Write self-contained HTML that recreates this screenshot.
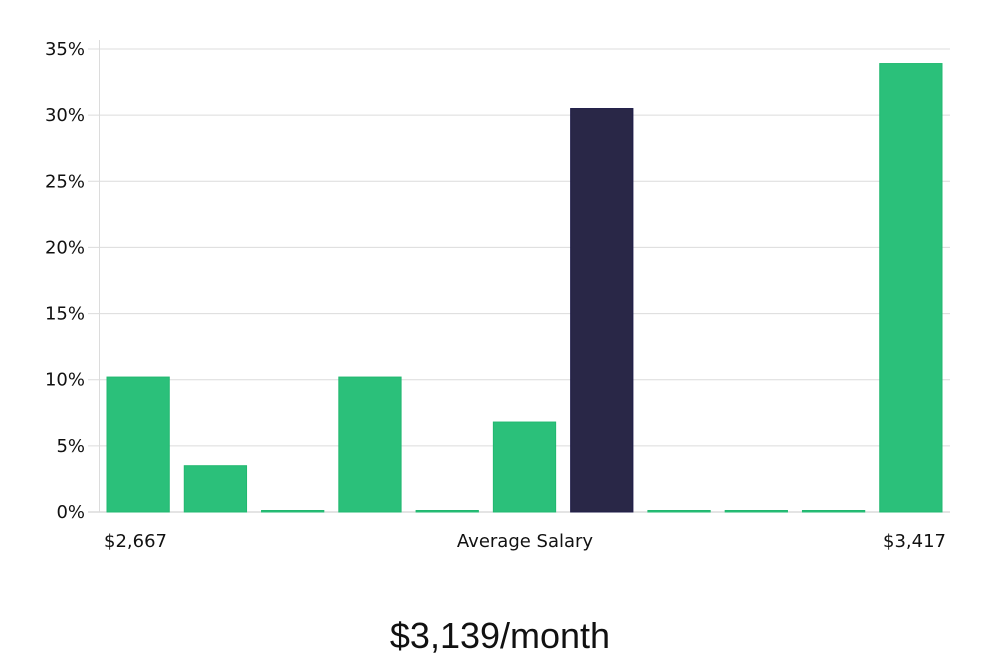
<!DOCTYPE html>
<html><head><meta charset="utf-8"><style>
body{margin:0;background:#fff;width:1000px;height:660px;overflow:hidden;font-family:"DejaVu Sans","Liberation Sans",sans-serif;}
svg{display:block}
</style></head><body>
<svg id="chart" width="1000" height="660"></svg>
<script>
const categories=["b1","b2","b3","b4","b5","b6","b7","b8","b9","b10","b11"];
const values=[10.2,3.5,0,10.2,0,6.8,30.5,0,0,0,33.9];
const highlight=[false,false,false,false,false,false,true,false,false,false,false];
const yTicks=[0,5,10,15,20,25,30,35];
const yTickLabels=["0%","5%","10%","15%","20%","25%","30%","35%"];
const xLabels=["$2,667","Average Salary","$3,417"];
const title="$3,139/month";

const NS="http://www.w3.org/2000/svg";
const svg=document.getElementById("chart");
const X0=100,X1=950,Y0=512,Y1=49,YMAX=35;
const y=v=>Y0-(v/YMAX)*(Y0-Y1);
const step=(X1-X0)/categories.length;
const xb=i=>X0+i*step;
function mk(tag,attrs,parent){const e=document.createElementNS(NS,tag);for(const k in attrs)e.setAttribute(k,attrs[k]);(parent||svg).appendChild(e);return e;}

const grid=mk("g",{});


yTicks.forEach((t,i)=>{
  const l=mk("line",{x1:88,x2:X1,y1:y(t),y2:y(t),stroke:t===0?"#c8c8c8":"#dcdcdc","stroke-width":1},grid);
  
  
  const tx=mk("text",{x:85,y:y(t)+6,"text-anchor":"end","font-size":18,fill:"#111"},grid);
  tx.textContent=yTickLabels[i];
  
  
});
const ax=mk("line",{x1:99.5,x2:99.5,y1:40,y2:Y0,stroke:"#dcdcdc","stroke-width":1});



values.forEach((v,i)=>{
  const x=xb(i)+7,w=step-15;
  const top=y(v);
  const h=Math.max(1.5,Y0-top);
  const r=mk("rect",{x:x,y:Y0-h,width:w,height:h,fill:highlight[i]?"#292747":"#2bc07a",stroke:highlight[i]?"#1f1c48":"#22b870","stroke-width":1});
  
  
});

const xl=[[104,"start"],[525,"middle"],[946,"end"]];
xLabels.forEach((s,i)=>{
  const t=mk("text",{x:xl[i][0],y:547,"text-anchor":xl[i][1],"font-size":18,fill:"#111"});
  t.textContent=s;
  
  
});
const tt=mk("text",{x:500,y:648,"text-anchor":"middle","font-size":36,fill:"#111","font-family":"Liberation Sans, sans-serif"});
tt.textContent=title;


</script>
</body></html>
